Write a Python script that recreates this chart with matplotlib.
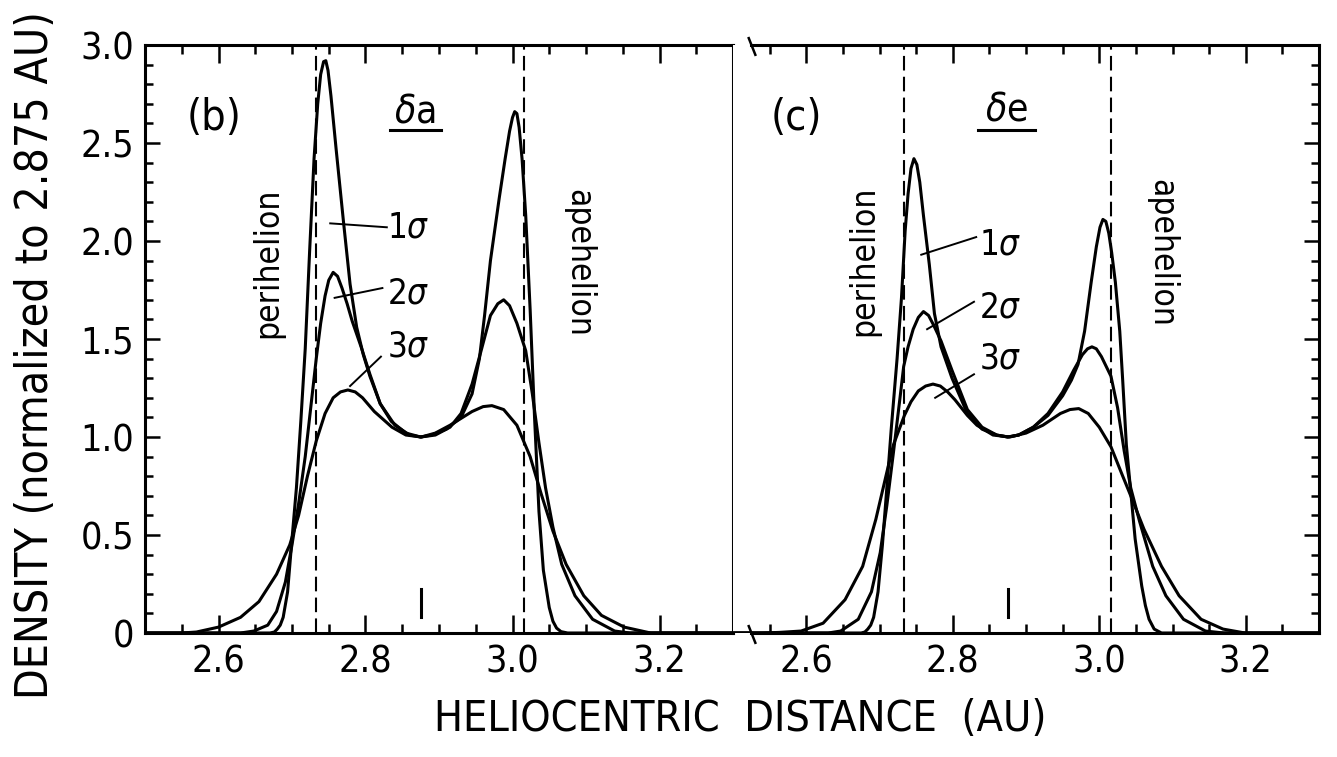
import matplotlib
matplotlib.use("Agg")
import matplotlib.pyplot as plt

plt.rcParams['font.family'] = ['DejaVu Sans']
plt.rcParams['font.stretch'] = 'condensed'
plt.rcParams['mathtext.fontset'] = 'dejavusans'

# perihelion / aphelion of the orbit (AU)
q_dist = 2.733
Q_dist = 3.016

# ---- panel (b): delta a ----
a1_x = [2.50, 2.670, 2.676, 2.680, 2.684, 2.688, 2.694, 2.700, 2.706, 2.712, 2.718, 2.724, 2.730, 2.735,
        2.739, 2.743, 2.746, 2.749, 2.753, 2.760, 2.770, 2.779, 2.788, 2.797, 2.806, 2.820, 2.840, 2.860,
        2.875, 2.890, 2.910, 2.930, 2.945, 2.955, 2.962, 2.970, 2.982, 2.990, 2.996, 3.000, 3.003, 3.006,
        3.009, 3.013, 3.018, 3.024, 3.030, 3.036, 3.042, 3.050, 3.055, 3.060, 3.066, 3.075, 3.30]
a1_y = [0.0, 0.0, 0.005, 0.02, 0.04, 0.08, 0.21, 0.48, 0.74, 1.08, 1.45, 1.95, 2.42, 2.70,
        2.85, 2.915, 2.92, 2.87, 2.74, 2.47, 2.10, 1.78, 1.56, 1.42, 1.31, 1.17, 1.06, 1.01,
        1.00, 1.01, 1.04, 1.10, 1.22, 1.40, 1.62, 1.90, 2.22, 2.42, 2.56, 2.63, 2.66, 2.65,
        2.58, 2.42, 2.13, 1.65, 1.10, 0.62, 0.32, 0.13, 0.06, 0.025, 0.007, 0.0, 0.0]

a2_x = [2.50, 2.630, 2.648, 2.667, 2.679, 2.691, 2.700, 2.709, 2.718, 2.727, 2.733, 2.739, 2.745, 2.750,
        2.756, 2.762, 2.768, 2.775, 2.782, 2.794, 2.806, 2.820, 2.835, 2.855, 2.875, 2.895, 2.915, 2.930,
        2.945, 2.958, 2.970, 2.980, 2.988, 2.996, 3.006, 3.018, 3.027, 3.036, 3.045, 3.055, 3.067, 3.085,
        3.109, 3.139, 3.160, 3.30]
a2_y = [0.0, 0.0, 0.01, 0.04, 0.11, 0.26, 0.45, 0.66, 0.90, 1.20, 1.40, 1.58, 1.72, 1.80,
        1.84, 1.82, 1.76, 1.68, 1.59, 1.46, 1.32, 1.17, 1.08, 1.02, 1.00, 1.01, 1.05, 1.12,
        1.27, 1.45, 1.62, 1.68, 1.70, 1.67, 1.58, 1.44, 1.22, 0.97, 0.74, 0.54, 0.35, 0.19,
        0.07, 0.01, 0.0, 0.0]

a3_x = [2.50, 2.550, 2.570, 2.600, 2.630, 2.655, 2.679, 2.697, 2.709, 2.721, 2.733, 2.745, 2.756, 2.766,
        2.776, 2.786, 2.796, 2.812, 2.836, 2.855, 2.876, 2.895, 2.915, 2.945, 2.960, 2.972, 2.988, 3.006,
        3.024, 3.039, 3.055, 3.073, 3.097, 3.121, 3.152, 3.188, 3.30]
a3_y = [0.0, 0.0, 0.005, 0.03, 0.08, 0.16, 0.30, 0.45, 0.60, 0.80, 0.98, 1.12, 1.20, 1.23,
        1.24, 1.23, 1.20, 1.13, 1.05, 1.01, 1.00, 1.02, 1.06, 1.13, 1.155, 1.16, 1.14, 1.06,
        0.90, 0.71, 0.52, 0.35, 0.19, 0.09, 0.03, 0.0, 0.0]

# ---- panel (c): delta e ----
e1_x = [2.50, 2.675, 2.680, 2.684, 2.688, 2.692, 2.698, 2.704, 2.710, 2.716, 2.720, 2.724, 2.730, 2.735,
        2.739, 2.743, 2.747, 2.751, 2.755, 2.760, 2.768, 2.775, 2.784, 2.799, 2.820, 2.840, 2.860, 2.875,
        2.890, 2.910, 2.930, 2.950, 2.962, 2.971, 2.980, 2.989, 2.996, 3.001, 3.005, 3.009, 3.013, 3.017,
        3.022, 3.028, 3.032, 3.037, 3.043, 3.049, 3.058, 3.063, 3.068, 3.075, 3.085, 3.30]
e1_y = [0.0, 0.0, 0.005, 0.02, 0.04, 0.08, 0.21, 0.45, 0.74, 1.04, 1.22, 1.40, 1.71, 2.05,
        2.24, 2.37, 2.42, 2.39, 2.30, 2.13, 1.88, 1.63, 1.46, 1.30, 1.12, 1.04, 1.01, 1.00,
        1.01, 1.05, 1.11, 1.21, 1.29, 1.37, 1.54, 1.79, 1.97, 2.07, 2.11, 2.10, 2.04, 1.94,
        1.79, 1.54, 1.29, 0.96, 0.72, 0.48, 0.24, 0.14, 0.07, 0.02, 0.0, 0.0]

e2_x = [2.50, 2.630, 2.647, 2.671, 2.689, 2.701, 2.710, 2.719, 2.728, 2.733, 2.739, 2.746, 2.753, 2.760,
        2.767, 2.774, 2.784, 2.799, 2.820, 2.840, 2.860, 2.875, 2.890, 2.910, 2.930, 2.950, 2.965, 2.977,
        2.984, 2.990, 2.996, 3.003, 3.016, 3.025, 3.034, 3.043, 3.055, 3.073, 3.091, 3.115, 3.145, 3.170,
        3.30]
e2_y = [0.0, 0.0, 0.01, 0.07, 0.21, 0.41, 0.65, 0.92, 1.20, 1.36, 1.46, 1.55, 1.61, 1.64,
        1.62, 1.57, 1.49, 1.34, 1.14, 1.05, 1.01, 1.00, 1.01, 1.05, 1.12, 1.23, 1.34, 1.42,
        1.45, 1.46, 1.45, 1.41, 1.31, 1.15, 0.93, 0.74, 0.57, 0.34, 0.19, 0.07, 0.01, 0.0,
        0.0]

e3_x = [2.50, 2.540, 2.563, 2.593, 2.623, 2.653, 2.677, 2.695, 2.710, 2.719, 2.734, 2.743, 2.753, 2.763,
        2.773, 2.783, 2.793, 2.803, 2.820, 2.833, 2.855, 2.878, 2.900, 2.923, 2.947, 2.960, 2.972, 2.985,
        3.000, 3.016, 3.031, 3.043, 3.061, 3.085, 3.109, 3.139, 3.169, 3.199, 3.30]
e3_y = [0.0, 0.0, 0.003, 0.01, 0.05, 0.17, 0.34, 0.58, 0.82, 0.96, 1.11, 1.18, 1.235, 1.26,
        1.27, 1.26, 1.23, 1.19, 1.11, 1.06, 1.01, 1.00, 1.02, 1.06, 1.12, 1.14, 1.145, 1.12,
        1.05, 0.95, 0.81, 0.70, 0.53, 0.34, 0.19, 0.07, 0.02, 0.0, 0.0]

sigma_labels = ['1$\\sigma$', '2$\\sigma$', '3$\\sigma$']

# label positions and leader lines (data coords), per panel
b_label_pos = [(2.858, 2.07), (2.858, 1.73), (2.858, 1.46)]
b_leaders = [((2.752, 2.09), (2.829, 2.07)),
             ((2.758, 1.71), (2.823, 1.76)),
             ((2.779, 1.26), (2.821, 1.41))]
c_label_pos = [(2.865, 1.98), (2.865, 1.66), (2.865, 1.40)]
c_leaders = [((2.757, 1.93), (2.832, 2.02)),
             ((2.765, 1.55), (2.829, 1.69)),
             ((2.776, 1.20), (2.829, 1.32))]

W, H = 1337, 757
fig = plt.figure(figsize=(W / 100, H / 100), dpi=100)
ax1 = fig.add_axes([145 / W, 124 / H, 588 / W, 588 / H])
ax2 = fig.add_axes([733 / W, 124 / H, 586 / W, 588 / H])

LW = 2.2


def draw_panel(ax, curves, label_pos, leaders, tag, greek, peri_xy, aph_xy):
    for xs, ys in curves:
        ax.plot(xs, ys, color='black', lw=LW, solid_joinstyle='round')
    for xv in (q_dist, Q_dist):
        ax.axvline(xv, color='black', lw=1.5, dashes=(7, 3))
    ax.plot([2.875, 2.875], [0.08, 0.225], color='black', lw=LW)
    for (x0, y0), (x1, y1) in leaders:
        ax.plot([x0, x1], [y0, y1], color='black', lw=1.4)
    for (lx, ly), txt in zip(label_pos, sigma_labels):
        ax.text(lx, ly, txt, fontsize=25, ha='center', va='center')
    ax.text(tag[0], tag[1], tag[2], fontsize=31, ha='center', va='center')
    ax.text(greek[0], greek[1], greek[2], fontsize=28, ha='center', va='center')
    ax.plot([greek[3], greek[4]], [2.565, 2.565], color='black', lw=2.2)
    ax.text(peri_xy[0], peri_xy[1], 'perihelion', rotation=90, fontsize=24,
            ha='center', va='center')
    ax.text(aph_xy[0], aph_xy[1], 'apehelion', rotation=270, fontsize=24,
            ha='center', va='center')
    ax.set_xlim(2.5, 3.3)
    ax.set_ylim(0, 3.0)
    for s in ax.spines.values():
        s.set_linewidth(2.2)


draw_panel(ax1, [(a1_x, a1_y), (a2_x, a2_y), (a3_x, a3_y)], b_label_pos, b_leaders,
           (2.594, 2.63, '(b)'), (2.867, 2.66, '$\\delta$a', 2.833, 2.903),
           (2.667, 1.89), (3.09, 1.89))
draw_panel(ax2, [(e1_x, e1_y), (e2_x, e2_y), (e3_x, e3_y)], c_label_pos, c_leaders,
           (2.586, 2.63, '(c)'), (2.874, 2.67, '$\\delta$e', 2.835, 2.912),
           (2.679, 1.90), (3.085, 1.94))

major_x = [2.6, 2.8, 3.0, 3.2]
minor_x1 = [2.55, 2.65, 2.7, 2.75, 2.85, 2.9, 2.95, 3.05, 3.1, 3.15, 3.25]
x_labels = ['2.6', '2.8', '3.0', '3.2']
major_y = [0, 0.5, 1.0, 1.5, 2.0, 2.5, 3.0]
y_labels = ['0', '0.5', '1.0', '1.5', '2.0', '2.5', '3.0']
minor_y = [0.1, 0.2, 0.3, 0.4, 0.6, 0.7, 0.8, 0.9, 1.1, 1.2, 1.3, 1.4, 1.6, 1.7, 1.8, 1.9,
           2.1, 2.2, 2.3, 2.4, 2.6, 2.7, 2.8, 2.9]

for ax in (ax1, ax2):
    ax.set_xticks(major_x)
    ax.set_xticklabels(x_labels, fontsize=27)
    ax.set_xticks(minor_x1, minor=True)
    ax.set_yticks(major_y)
    ax.set_yticks(minor_y, minor=True)
    ax.tick_params(axis='x', which='major', direction='in', length=13, width=1.8,
                   top=True, bottom=True, pad=8)
    ax.tick_params(axis='x', which='minor', direction='in', length=6.5, width=1.8,
                   top=True, bottom=True)

ax1.set_yticklabels(y_labels, fontsize=27)
ax1.tick_params(axis='y', which='major', direction='in', length=11, width=1.8,
                left=True, right=False, pad=8)
ax1.tick_params(axis='y', which='minor', direction='in', length=6, width=1.8,
                left=True, right=False)

ax2.tick_params(axis='y', which='both', direction='in', width=1.8, left=False, right=True,
                labelleft=False, labelright=False)
ax2.tick_params(axis='y', which='major', length=11)
ax2.tick_params(axis='y', which='minor', length=6)
ax2.spines['left'].set_visible(False)
ax2.spines['bottom'].set_bounds(2.525, 3.3)
ax2.spines['top'].set_bounds(2.525, 3.3)
# axis break marks
ax2.plot([2.5215, 2.5305], [0.035, -0.05], color='black', lw=1.8, clip_on=False)
ax2.plot([2.5215, 2.5305], [3.035, 2.95], color='black', lw=1.8, clip_on=False)

fig.text(36 / W, 1 - 355 / H, 'DENSITY (normalized to 2.875 AU)', rotation=90,
         fontsize=32, ha='center', va='center')
fig.text(740 / W, 1 - 719 / H, 'HELIOCENTRIC  DISTANCE  (AU)', fontsize=31,
         ha='center', va='center')

fig.savefig('out.png', dpi=100)
